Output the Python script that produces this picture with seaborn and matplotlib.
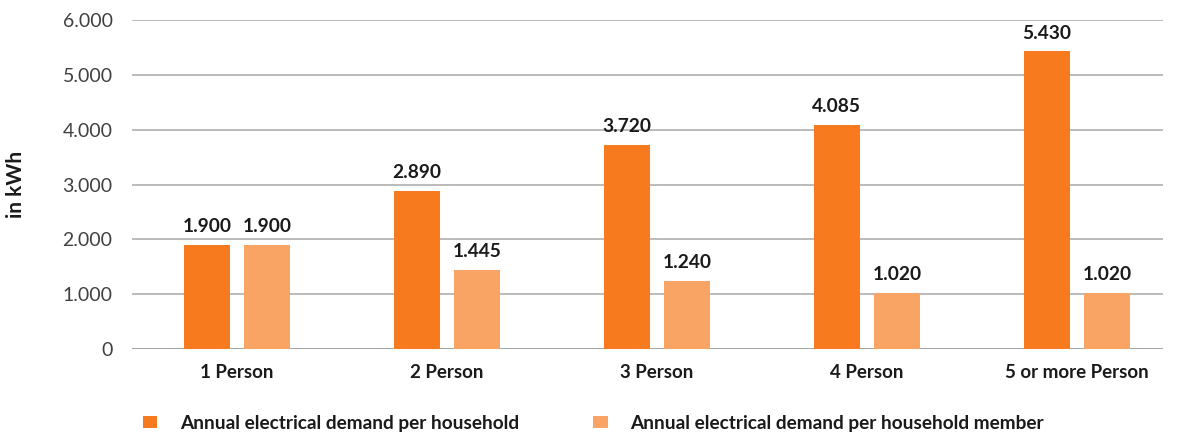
import matplotlib
matplotlib.use("Agg")
import matplotlib.pyplot as plt
import seaborn as sns
import pandas as pd

categories = ["1 Person", "2 Person", "3 Person", "4 Person", "5 or more Person"]
per_household = [1900, 2890, 3720, 4085, 5430]
per_member = [1900, 1445, 1240, 1020, 1020]
series_names = ["Annual electrical demand per household",
                "Annual electrical demand per household member"]
y_ticks = [0, 1000, 2000, 3000, 4000, 5000, 6000]

df = pd.DataFrame({
    "category": categories * 2,
    "value": per_household + per_member,
    "series": [series_names[0]] * len(categories) + [series_names[1]] * len(categories),
})

sns.set_theme(style="white")
plt.rcParams["font.family"] = ["Lato", "DejaVu Sans"]

W, H = 1181, 434
fig = plt.figure(figsize=(W / 100, H / 100), dpi=100)
ax = fig.add_axes([132 / W, 1 - 349 / H, (1163 - 132) / W, (349 - 20) / H])

palette = {series_names[0]: "#F87A1F", series_names[1]: "#F9A464"}
sns.barplot(data=df, x="category", y="value", hue="series", palette=palette,
            width=0.572, gap=0.23, saturation=1, ax=ax, edgecolor="none")

ax.set_xlim(-0.5, -0.5 + (1163 - 132) / 210)
ax.set_ylim(0, 6000)
ax.set_yticks(y_ticks)
ax.set_yticklabels([f"{v:,}".replace(",", ".") for v in y_ticks])
ax.yaxis.grid(True, color="#A8A8A8", linewidth=1.1)
ax.set_axisbelow(True)
for s in ["top", "right", "left", "bottom"]:
    ax.spines[s].set_visible(False)
ax.axhline(0, color="#8C98A4", linewidth=1.3, zorder=0.5)

ax.tick_params(axis="y", length=0, pad=14, labelsize=14, labelcolor="#404040")
ax.tick_params(axis="x", length=0, pad=11, labelsize=13.5, labelcolor="#1a1a1a")
for lbl in ax.get_xticklabels():
    lbl.set_fontweight("bold")

ax.set_xlabel("")
ax.set_ylabel("in kWh", fontsize=15, fontweight="bold", color="#1a1a1a", labelpad=26)

for cont in ax.containers:
    vals = cont.datavalues
    ax.bar_label(cont, labels=[f"{v:,.0f}".replace(",", ".") for v in vals],
                 padding=7, fontsize=13.8, fontweight="bold", color="#1a1a1a")

sns.move_legend(ax, loc="center left", bbox_to_anchor=(143 / W, 1 - 423 / H),
                bbox_transform=fig.transFigure, ncol=2, frameon=False, title=None,
                fontsize=13.7, handlelength=0.75, handleheight=0.6,
                handletextpad=1.2, columnspacing=3.9, borderpad=0, borderaxespad=0)
for t in ax.get_legend().get_texts():
    t.set_fontweight("bold")
    t.set_color("#1a1a1a")

fig.savefig("out.png", dpi=100)
